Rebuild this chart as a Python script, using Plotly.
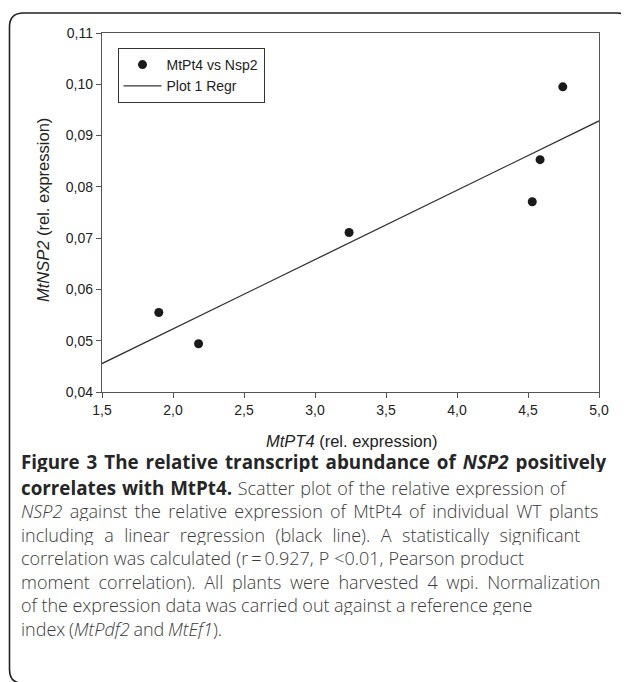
import numpy as np
import plotly.graph_objects as go

# ---------------- data ----------------
mtpt4 = [1.90, 2.18, 3.24, 4.53, 4.585, 4.745]
nsp2 = [0.0555, 0.0494, 0.0711, 0.0771, 0.0853, 0.0995]
x_range = [1.5, 5.0]
y_range = [0.04, 0.11]
scatter_name = "MtPt4 vs Nsp2"
regr_name = "Plot 1 Regr"

caption_lines = [
    "<b>Figure 3 The relative transcript abundance of <i>NSP2</i> positively</b>",
    "<b>correlates with MtPt4.</b> Scatter plot of the relative expression of",
    "<i>NSP2</i> against the relative expression of MtPt4 of individual WT plants",
    "including a linear regression (black line). A statistically significant",
    "correlation was calculated (r\u2009=\u20090.927, P <0.01, Pearson product",
    "moment correlation). All plants were harvested 4 wpi. Normalization",
    "of the expression data was carried out against a reference gene",
    "index (<i>MtPdf2</i> and <i>MtEf1</i>).",
]
# per-line word spacing (px) mimicking the justified caption typesetting
caption_word_spacing = [2.1, 1.0, 2.6, 5.8, 0.3, 4.0, -0.2, -1.0]

# linear regression
slope, intercept = np.polyfit(mtpt4, nsp2, 1)
reg_x = np.array(x_range)
reg_y = slope * reg_x + intercept

# ---------------- layout geometry (page pixels; page body has 8px margin) ----------------
OFF = 8
W, H = 629 - OFF, 682 - OFF
PL, PR, PT, PB = 102, 599, 33, 392          # plot area in page pixels
L, R, T, B = PL - OFF, W - (PR - OFF), PT - OFF, H - (PB - OFF)
PW, PH = PR - PL, PB - PT


def px(x):
    return (x - PL) / PW


def py(y):
    return (PB - y) / PH


fig = go.Figure()
fig.add_trace(go.Scatter(
    x=mtpt4, y=nsp2, mode="markers", name=scatter_name,
    marker=dict(size=9, color="#1a1a1a"),
))
fig.add_trace(go.Scatter(
    x=reg_x, y=reg_y, mode="lines", name=regr_name,
    line=dict(color="#333333", width=1.3),
))

axis_common = dict(
    showline=True, linecolor="#555555", linewidth=1.3, mirror=True,
    ticks="outside", ticklen=5, tickwidth=1.2, tickcolor="#555555",
    showgrid=False, zeroline=False,
    tickfont=dict(family="Liberation Sans, Arial", size=14, color="#222222"),
)

fig.update_xaxes(range=x_range, dtick=0.5, tickformat=".1f", **axis_common)
fig.update_yaxes(range=y_range, dtick=0.01, tickformat=".2f", **axis_common)

title_font = dict(family="Liberation Sans, Arial", size=16.5, color="#222222")
annotations = [
    dict(text="<i>MtPT4</i> (rel. expression)", x=px(351), y=py(440.5), height=18,
         xref="paper", yref="paper", showarrow=False, xanchor="center", yanchor="middle",
         font=title_font),
    dict(text="<i>MtNSP2</i> (rel. expression)", x=px(43), y=py(210), textangle=-90,
         xref="paper", yref="paper", showarrow=False, xanchor="center", yanchor="middle",
         font=title_font),
]

line_y = [461.5, 487, 510.5, 534, 557.5, 581, 604.5, 628]
for i, (txt, yy, ws) in enumerate(zip(caption_lines, line_y, caption_word_spacing)):
    if i == 0:
        fnt = dict(family="Open Sans", size=18.8, color="#262626")
    else:
        fnt = dict(family="Open Sans", size=18, color="#3a3a3a", weight=300)
    if i == 1:
        txt = ("<span style='font-size:18.8px;font-weight:bold;color:#262626'>correlates with MtPt4.</span>"
               " Scatter plot of the relative expression of")
    txt = f"<span style='word-spacing:{ws}px'>{txt}</span>"
    annotations.append(dict(
        text=txt, x=px(19), y=py(yy), xref="paper", yref="paper", height=21,
        showarrow=False, xanchor="left", yanchor="middle", font=fnt,
    ))

# rounded border
bl, bt, br, bb, rad = 9.5, 13, 631, 683.5, 14
path = (
    f"M {px(bl)},{py(bt + rad)} "
    f"Q {px(bl)},{py(bt)} {px(bl + rad)},{py(bt)} "
    f"L {px(br - rad)},{py(bt)} "
    f"Q {px(br)},{py(bt)} {px(br)},{py(bt + rad)} "
    f"L {px(br)},{py(bb - rad)} "
    f"Q {px(br)},{py(bb)} {px(br - rad)},{py(bb)} "
    f"L {px(bl + rad)},{py(bb)} "
    f"Q {px(bl)},{py(bb)} {px(bl)},{py(bb - rad)} Z"
)

fig.update_layout(
    width=W, height=H,
    margin=dict(l=L, r=R, t=T, b=B, autoexpand=False),
    paper_bgcolor="white", plot_bgcolor="white",
    separators=",.",
    showlegend=True,
    legend=dict(
        x=px(117.5), y=py(48), xanchor="left", yanchor="top",
        bordercolor="#333333", borderwidth=1, bgcolor="white",
        font=dict(family="Liberation Sans, Arial", size=14, color="#222222"),
        tracegroupgap=0, itemwidth=38,
    ),
    annotations=annotations,
    shapes=[dict(type="path", path=path, xref="paper", yref="paper",
                 line=dict(color="#222222", width=1.6), layer="above")],
)

fig.write_html("out.html")
